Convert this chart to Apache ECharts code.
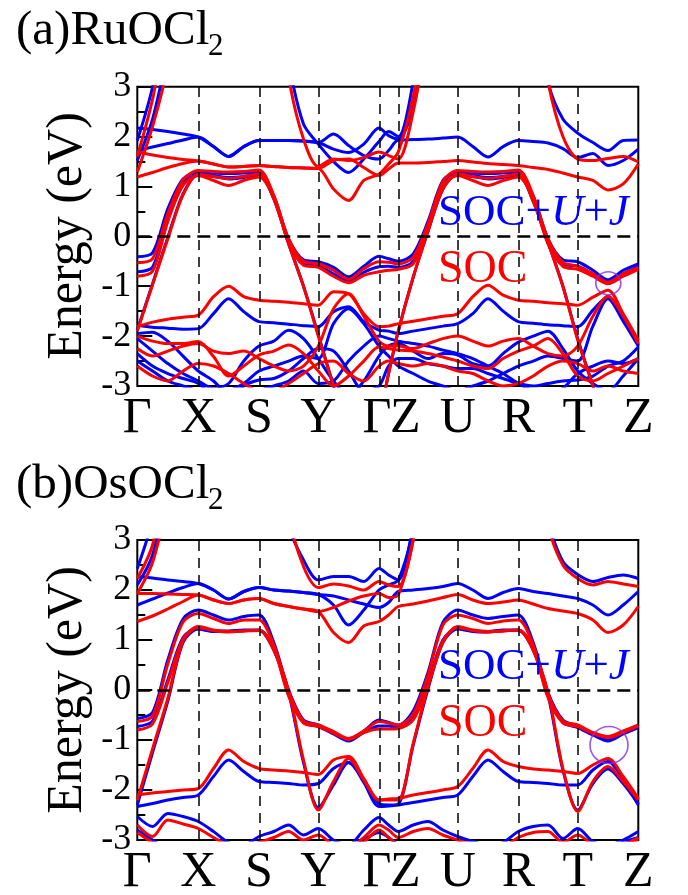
<!DOCTYPE html>
<html>
<head>
<meta charset="utf-8">
<script src="https://cdn.jsdelivr.net/npm/echarts@6/dist/echarts.min.js"></script>
<style>
  html, body { margin: 0; padding: 0; background: #fff; }
  #chart { width: 688px; height: 895px; }
</style>
</head>
<body>
<div id="chart"></div>
<script>
// k-path sampling (path length units) and high-symmetry points
const kGrid = [0, 0.1525, 0.305, 0.4575, 0.61,
  0.762, 0.913, 1.065, 1.217,
  1.365, 1.513, 1.662, 1.81,
  1.962, 2.113, 2.265, 2.417,
  2.513, 2.61,
  2.759, 2.907, 3.056, 3.204,
  3.355, 3.507, 3.658, 3.81,
  3.959, 4.107, 4.256, 4.404,
  4.556, 4.707, 4.859, 5.01];
const kTicks = [0, 0.61, 1.217, 1.81, 2.417, 2.61, 3.204, 3.81, 4.404, 5.01];
const kLabels = ['Γ', 'X', 'S', 'Y', 'Γ', 'Z', 'U', 'R', 'T', 'Z'];

// ---------- RuOCl2 : SOC+U+J bands (eV) ----------
const ruU1 = [2.17,2.14,2.10,2.05,1.99, 1.80,1.60,1.80,1.92, 1.92,1.92,1.91,1.88, 2.05,1.82,1.62,1.55, 1.72,1.93, 1.94,1.95,1.97,1.99, 1.80,1.59,1.80,1.92, 1.90,1.87,1.76,1.58, 1.66,1.42,1.52,1.75];
const ruU2 = [1.72,1.79,1.86,1.93,1.99, 1.80,1.60,1.80,1.92, 1.92,1.92,1.91,1.88, 1.75,1.68,1.85,2.17, 2.02,1.95, 2.6,4.2];
const ruU3 = [null,null,null,null,null, null,null,null,null, 5.5,3.5,2.25,1.85, 1.5,1.28,1.55,1.9, 2.1,2.0, 3.1,5.0];
const ruU4 = [1.52,2.35,3.7,5.2];
const ruU5 = [1.92,3.0,4.8];
const ruU6 = [null,null,null,null,null, null,null,null,null, null,null,null,null, null,null,null,null, null,null, null,null,null,null, null,null,null,null, 5.0,3.1,2.35,2.07, 1.88,1.72,1.92,1.93];
const ruU7 = [-0.41,-0.33,0.55,1.15,1.28, 1.27,1.26,1.27,1.28, 0.8,-0.05,-0.47,-0.51, -0.62,-0.81,-0.6,-0.40, -0.45,-0.5, -0.35,0.3,1.12,1.28, 1.27,1.26,1.27,1.28, 0.8,-0.05,-0.47,-0.51, -0.68,-0.87,-0.68,-0.55];
const ruU8 = [-0.71,-0.62,0.4,1.08,1.22, 1.20,1.15,1.18,1.22, 0.78,-0.1,-0.55,-0.6, -0.75,-0.9,-0.72,-0.61, -0.6,-0.62, -0.5,0.22,1.05,1.22, 1.20,1.15,1.18,1.22, 0.75,-0.12,-0.55,-0.6, -0.75,-0.9,-0.75,-0.6];
const ruU9 = [-1.88,-0.95,-0.02,0.85,1.24, 1.22,1.18,1.2,1.24, 0.75,-0.15,-1.0,-1.97, -3.0,-4.0,-4.2,-3.6, -2.75,-1.9, -0.82,0.1,0.95,1.24, 1.22,1.18,1.2,1.24, 0.7,-0.12,-1.0,-2.05, -3.0,-4.0];
const ruU10 = [-1.78,-1.82,-1.84,-1.86,-1.85, -1.55,-1.25,-1.51,-1.71, -1.73,-1.76,-1.79,-1.81, -1.51,-1.41,-1.71,-1.88, -1.9,-1.95, -1.9,-1.85,-1.8,-1.75, -1.55,-1.25,-1.5,-1.71, -1.74,-1.77,-1.79,-1.81, -1.48,-1.21,-1.65,-2.18];
const ruU11 = [-2.05,-2.3,-2.55,-2.75,-2.9, -3.05,-2.95,-2.5,-2.2, -2.1,-1.88,-2.05,-2.45, -2.9,-3.2,-2.9,-2.4, -2.2,-2.15, -2.3,-2.45,-2.35,-2.38, -2.55,-2.6,-2.35,-2.12, -2.0,-1.9,-2.25,-2.7, -2.95,-3.1,-2.8,-2.45];
const ruU12 = [-2.35,-2.6,-2.75,-2.85,-2.95, -3.2,-3.3,-3.0,-2.88, -2.85,-2.7,-2.45,-2.25, -2.3,-2.7,-3.1,-3.0, -2.6,-2.45, -2.45,-2.55,-2.6,-2.65, -2.65,-2.75,-2.85,-2.95, -3.0,-2.95,-2.9,-2.88, -2.8,-2.6,-2.5,-2.22];
const ruU13 = [-1.95,-1.92,-2.1,-2.4,-2.7, -2.9,-3.2,-3.3,-3.1, -3.0,-2.9,-2.7,-2.95, -2.9,-2.5,-2.2,-2.0, -2.05,-2.1, -2.15,-2.2,-2.28,-2.35, -2.45,-2.6,-2.75,-2.95, -3.1,-3.2,-3.05,-2.75, -2.6,-2.5,-2.55,-2.45];
const ruU14 = [-2.5,-2.7,-2.9,-3.0,-3.1, -3.2,-3.1,-2.95,-2.7, -2.6,-2.5,-2.4,-2.45, -1.75,-1.45,-1.75,-2.2, -2.4,-2.6, -2.75,-2.9,-3.0,-3.1, -3.0,-2.9,-2.75,-2.6, -2.5,-2.4,-2.45,-2.5, -1.8,-1.25,-1.7,-2.2];

// ---------- RuOCl2 : SOC bands (eV) ----------
const ruS1 = [1.69,1.63,1.58,1.54,1.51, 1.45,1.39,1.40,1.42, 1.40,1.38,1.37,1.36, 1.52,1.55,1.38,1.22, 1.35,1.47, 1.47,1.48,1.50,1.52, 1.49,1.46,1.44,1.42, 1.38,1.34,1.27,1.19, 1.12,0.93,1.05,1.45];
const ruS2 = [1.19,1.28,1.38,1.46,1.51, 1.45,1.39,1.40,1.42, 1.40,1.38,1.37,1.36, 0.95,0.72,1.12,1.25, 1.45,1.69, 2.8,4.5];
const ruS3 = [null,null,null,null,null, null,null,null,null, 5.5,3.2,1.95,1.40, 1.55,1.52,1.58,1.69, 1.62,1.55, 2.5,4.2];
const ruS4 = [1.29,2.2,3.4,5.0];
const ruS5 = [1.6,2.75,4.4];
const ruS6 = [null,null,null,null,null, null,null,null,null, null,null,null,null, null,null,null,null, null,null, null,null,null,null, null,null,null,null, 5.0,3.1,2.0,1.55, 1.52,1.56,1.6,1.49];
const ruS7 = [-0.53,-0.45,0.45,1.13,1.32, 1.30,1.29,1.30,1.33, 0.82,-0.05,-0.5,-0.55, -0.68,-0.86,-0.65,-0.51, -0.52,-0.55, -0.42,0.25,1.1,1.32, 1.30,1.29,1.30,1.33, 0.82,-0.05,-0.52,-0.6, -0.75,-0.92,-0.75,-0.62];
const ruS8 = [-0.8,-0.7,0.3,1.02,1.22, 1.12,1.02,1.12,1.19, 0.78,-0.12,-0.58,-0.62, -0.8,-0.93,-0.78,-0.71, -0.68,-0.66, -0.55,0.15,1.0,1.22, 1.12,1.02,1.12,1.19, 0.75,-0.15,-0.6,-0.66, -0.8,-0.95,-0.8,-0.66];
const ruS9 = [-1.9,-0.97,-0.05,0.83,1.24, 1.2,1.16,1.2,1.25, 0.75,-0.15,-1.0,-2.0, -3.0,-4.0,-4.2,-3.6, -2.75,-1.9, -0.82,0.1,0.95,1.25, 1.2,1.16,1.2,1.25, 0.7,-0.12,-1.0,-2.08, -3.0,-4.0];
const ruS10 = [-1.81,-1.72,-1.66,-1.62,-1.58, -1.21,-1.0,-1.21,-1.28, -1.30,-1.32,-1.35,-1.38, -1.11,-1.15,-1.55,-1.81, -1.8,-1.75, -1.7,-1.65,-1.6,-1.55, -1.21,-0.98,-1.18,-1.28, -1.30,-1.33,-1.35,-1.38, -1.22,-1.08,-1.55,-2.08];
const ruS11 = [-2.25,-2.4,-2.3,-2.2,-2.15, -2.3,-2.35,-2.3,-2.45, -2.6,-2.7,-2.6,-2.2, -1.45,-1.15,-1.6,-2.1, -2.2,-2.2, -2.25,-2.15,-2.05,-2.0, -2.1,-2.2,-2.1,-2.05, -2.2,-2.35,-2.4,-2.2, -1.6,-1.2,-1.6,-2.15];
const ruS12 = [-2.0,-2.1,-2.15,-2.15,-2.11, -2.41,-2.8,-2.6,-2.38, -2.3,-2.18,-2.35,-2.7, -3.0,-2.8,-2.5,-2.22, -2.25,-2.28, -2.3,-2.35,-2.42,-2.5, -2.6,-2.65,-2.45,-2.3, -2.2,-2.05,-2.35,-2.8, -2.9,-2.75,-2.6,-2.45];
const ruS13 = [-2.6,-2.8,-2.9,-2.7,-2.55, -2.6,-2.75,-2.95,-3.1, -3.1,-2.95,-2.75,-2.55, -2.5,-2.75,-2.9,-2.6, -2.5,-2.55, -2.6,-2.55,-2.6,-2.7, -2.75,-2.9,-3.0,-2.95, -2.8,-2.6,-2.5,-2.55, -2.7,-2.6,-2.7,-2.75];

// ---------- OsOCl2 : SOC+U+J bands (eV) ----------
const osU1 = [2.27,2.24,2.2,2.17,2.13, 2.0,1.82,1.97,2.05, 2.0,1.98,1.95,1.91, 1.88,1.8,1.72,1.65, 1.75,1.97, 2.0,2.03,2.07,2.13, 2.0,1.83,1.95,2.03, 1.97,1.93,1.88,1.83, 1.7,1.5,1.7,1.97];
const osU2 = [1.7,1.82,1.94,2.05,2.13, 2.0,1.82,1.97,2.05, 2.0,1.98,1.95,1.91, 1.7,1.3,1.6,2.0, 2.1,2.2, 3.2,5.0];
const osU3 = [null,null,null,null,null, null,null,null,null, 5.5,3.3,2.6,2.2, 2.27,2.27,2.17,2.43, 2.3,2.2, 3.3,5.0];
const osU4 = [null,null,null,null,null, null,null,null,null, null,null,null,null, null,null,null,null, null,null, null,null,null,null, null,null,null,null, 5.0,3.4,2.57,2.31, 2.17,2.25,2.3,2.23];
const osU5 = [2.43,3.4,5.0];
const osU6 = [2.1,2.7,4.2];
const osU7 = [-0.57,-0.45,0.6,1.42,1.6, 1.5,1.4,1.47,1.5, 0.95,0.0,-0.6,-0.7, -0.85,-1.0,-0.82,-0.6, -0.65,-0.7, -0.42,0.35,1.35,1.6, 1.5,1.43,1.47,1.5, 0.95,-0.05,-0.6,-0.72, -0.88,-1.0,-0.85,-0.72];
const osU8 = [-0.73,-0.62,0.2,1.05,1.23, 1.18,1.18,1.2,1.2, 0.85,-0.1,-0.65,-0.73, -0.88,-1.02,-0.85,-0.72, -0.72,-0.75, -0.55,0.15,1.0,1.23, 1.18,1.17,1.2,1.2, 0.85,-0.12,-0.65,-0.75, -0.9,-1.02,-0.88,-0.75];
const osU9 = [-2.3,-1.25,-0.22,0.95,1.22, 1.17,1.17,1.19,1.19, 0.8,-0.05,-1.45,-2.35, -1.9,-1.45,-1.8,-2.27, -2.3,-2.28, -1.1,0.02,0.95,1.22, 1.17,1.16,1.19,1.19, 0.8,-0.1,-1.6,-2.4, -1.87,-1.58,-1.87,-2.28];
const osU10 = [-2.33,-2.27,-2.2,-2.15,-2.1, -1.73,-1.4,-1.63,-1.83, -1.85,-1.87,-1.9,-1.87, -1.57,-1.45,-1.85,-2.33, -2.32,-2.3, -2.25,-2.2,-2.15,-2.1, -1.73,-1.4,-1.63,-1.83, -1.85,-1.87,-1.9,-1.9, -1.6,-1.43,-1.8,-2.3];
const osU11 = [-2.53,-2.73,-2.47,-2.53,-2.63, -2.83,-3.05,-3.1,-2.93, -2.83,-2.7,-2.9,-2.77, -3.0,-3.1,-2.8,-2.55, -2.7,-2.83, -2.7,-2.63,-2.8,-2.93, -3.03,-3.1,-3.05,-2.83, -2.73,-2.7,-2.97,-2.77, -3.03,-3.1,-3.0,-2.83];
const osU12 = [-2.8,-3.0,-3.2,-3.3,-3.3, -3.3,-3.3,-3.3,-3.3, -3.3,-3.3,-3.3,-3.3, -3.3,-3.2,-3.0,-2.85, -2.95,-3.1, -3.3,-3.3,-3.3,-3.3, -3.3,-3.3,-3.3,-3.3, -3.3,-3.3,-3.3,-3.3, -3.3,-3.2,-3.05,-2.95];

// ---------- OsOCl2 : SOC bands (eV) ----------
const osS1 = [1.93,1.93,1.92,1.91,1.9, 1.8,1.73,1.8,1.83, 1.73,1.67,1.62,1.57, 1.15,0.95,1.28,1.37, 1.5,1.67, 1.72,1.78,1.85,1.91, 1.8,1.73,1.76,1.8, 1.72,1.63,1.58,1.53, 1.4,1.15,1.3,1.67];
const osS2 = [1.37,1.48,1.62,1.77,1.9, 1.8,1.73,1.8,1.83, 1.73,1.67,1.62,1.57, 1.65,1.78,1.88,1.93, 1.85,1.9, 3.0,4.8];
const osS3 = [null,null,null,null,null, null,null,null,null, 5.5,3.5,2.47,2.05, 2.12,2.08,2.0,2.17, 2.1,2.07, 3.0,5.0];
const osS4 = [null,null,null,null,null, null,null,null,null, null,null,null,null, null,null,null,null, null,null, null,null,null,null, null,null,null,null, 5.0,3.3,2.5,2.23, 2.1,2.17,2.12,2.07];
const osS5 = [2.23,2.9,4.5];
const osS6 = [1.93,2.55,3.8];
const osS7 = [-0.63,-0.52,0.52,1.36,1.53, 1.43,1.33,1.4,1.4, 0.9,-0.02,-0.62,-0.7, -0.83,-0.97,-0.82,-0.63, -0.66,-0.7, -0.48,0.3,1.3,1.5, 1.43,1.33,1.38,1.4, 0.9,-0.08,-0.62,-0.7, -0.85,-0.93,-0.82,-0.7];
const osS8 = [-0.8,-0.68,0.15,1.02,1.27, 1.2,1.17,1.18,1.19, 0.82,-0.12,-0.66,-0.73, -0.86,-0.99,-0.85,-0.78, -0.78,-0.77, -0.6,0.1,0.95,1.27, 1.2,1.17,1.18,1.2, 0.82,-0.15,-0.66,-0.73, -0.87,-0.95,-0.85,-0.72];
const osS9 = [-2.2,-1.18,-0.17,0.98,1.25, 1.19,1.16,1.18,1.2, 0.8,-0.02,-1.4,-2.4, -1.83,-1.37,-1.8,-2.2, -2.2,-2.2, -1.07,0.07,0.98,1.25, 1.19,1.16,1.18,1.2, 0.8,-0.05,-1.57,-2.43, -1.83,-1.53,-1.83,-2.2];
const osS10 = [-2.1,-2.06,-2.03,-2.0,-1.97, -1.57,-1.2,-1.43,-1.57, -1.6,-1.62,-1.65,-1.69, -1.4,-1.33,-1.77,-2.2, -2.18,-2.17, -2.1,-2.05,-2.0,-1.93, -1.57,-1.2,-1.43,-1.53, -1.58,-1.6,-1.63,-1.67, -1.5,-1.37,-1.73,-2.17];
const osS11 = [-2.7,-2.93,-2.6,-2.68,-2.77, -2.95,-3.1,-3.2,-3.05, -2.95,-2.83,-3.0,-2.9, -3.1,-3.15,-2.95,-2.7, -2.8,-2.95, -2.83,-2.77,-2.9,-3.0, -3.1,-3.2,-3.15,-2.95, -2.85,-2.83,-3.05,-2.9, -3.1,-3.2,-3.1,-2.95];
const osS12 = [-2.85,-3.05,-3.2,-3.3,-3.3, -3.3,-3.3,-3.3,-3.3, -3.3,-3.3,-3.3,-3.3, -3.3,-3.25,-3.05,-2.8, -2.95,-3.1, -3.3,-3.3,-3.3,-3.3, -3.3,-3.3,-3.3,-3.3, -3.3,-3.3,-3.3,-3.3, -3.3,-3.25,-3.1,-3.0];

// marked band-gap regions [k, E]
const ruCircle = [4.71, -0.94];
const osCircle = [4.717, -1.1];

const ruBlue = [ruU1, ruU2, ruU3, ruU4, ruU5, ruU6, ruU7, ruU8, ruU9, ruU10, ruU11, ruU12, ruU13, ruU14];
const ruRed = [ruS1, ruS2, ruS3, ruS4, ruS5, ruS6, ruS7, ruS8, ruS9, ruS10, ruS11, ruS12, ruS13];
const osBlue = [osU1, osU2, osU3, osU4, osU5, osU6, osU7, osU8, osU9, osU10, osU11, osU12];
const osRed = [osS1, osS2, osS3, osS4, osS5, osS6, osS7, osS8, osS9, osS10, osS11, osS12];

const FONT = 'Liberation Serif';
const BLUE = '#0000ff', RED = '#ff0000', PURPLE = '#8a2be2';

const panels = [
  { rect: { left: 137.3, top: 86.7, width: 501, height: 299.3 }, blue: ruBlue, red: ruRed, circle: ruCircle, circleSize: [25, 23] },
  { rect: { left: 137.3, top: 540, width: 501, height: 300 }, blue: osBlue, red: osRed, circle: osCircle, circleSize: [38, 37] }
];

function kLabel(v) {
  const i = kTicks.findIndex(t => Math.abs(t - v) < 1e-6);
  if (i < 0) return '';
  if (i === 4) return '{gl|Γ}';
  if (i === 5) return '{zr|Z}';
  return kLabels[i];
}

const grids = [], xAxes = [], yAxes = [], series = [];
panels.forEach((p, gi) => {
  grids.push(Object.assign({ show: true, borderColor: '#000', borderWidth: 2, backgroundColor: 'transparent', containLabel: false, outerBoundsMode: 'none' }, p.rect));
  xAxes.push({
    gridIndex: gi, type: 'value', min: 0, max: 5.01,
    axisLine: { show: false }, axisTick: { show: false }, splitLine: { show: false },
    axisLabel: {
      customValues: kTicks, showMinLabel: true, showMaxLabel: true, hideOverlap: false,
      formatter: kLabel, fontSize: 50, fontFamily: FONT, color: '#000', margin: 8,
      rich: {
        gl: { fontSize: 50, fontFamily: FONT, color: '#000', padding: [0, 4, 0, 0] },
        zr: { fontSize: 50, fontFamily: FONT, color: '#000', padding: [0, 0, 0, 14] }
      }
    }
  });
  yAxes.push({
    gridIndex: gi, type: 'value', min: -3, max: 3, interval: 1,
    axisLine: { show: false }, splitLine: { show: false },
    axisTick: { show: true, inside: true, length: 15, lineStyle: { color: '#000', width: 2 } },
    minorTick: { show: true, splitNumber: 2, length: 8, lineStyle: { color: '#000', width: 2 } },
    axisLabel: { fontSize: 36, fontFamily: FONT, color: '#000', margin: 6 }
  });

  // high-symmetry guides and Fermi level
  const guides = kTicks.slice(1, -1).map(k => ({ xAxis: k, lineStyle: { type: [10, 7], width: 1.5, color: '#000' } }));
  guides.push({ yAxis: 0, lineStyle: { type: [13, 7], width: 2.6, color: '#000' } });
  series.push({
    type: 'line', xAxisIndex: gi, yAxisIndex: gi, data: [[0, -10]], showSymbol: false,
    lineStyle: { opacity: 0 }, silent: true, z: 1,
    markLine: { silent: true, symbol: ['none', 'none'], label: { show: false }, animation: false, data: guides }
  });

  const addBands = (bands, color, z) => bands.forEach(b => series.push({
    type: 'line', xAxisIndex: gi, yAxisIndex: gi,
    data: b.map((e, i) => [kGrid[i], e]),
    smooth: 0.3, showSymbol: false, symbol: 'none', silent: true, z: z,
    lineStyle: { color: color, width: 3 }, itemStyle: { color: color }
  }));
  addBands(p.blue, BLUE, 2);
  addBands(p.red, RED, 3);

  series.push({
    type: 'scatter', xAxisIndex: gi, yAxisIndex: gi, data: [p.circle], symbol: 'circle',
    symbolSize: p.circleSize, silent: true, z: 5,
    itemStyle: { color: 'rgba(0,0,0,0)', borderColor: PURPLE, borderWidth: 1.6 }
  });
});

function legendTexts(yTop, ySoc) {
  return [
    { type: 'text', z: 10, style: {
      x: 438, y: yTop, verticalAlign: 'middle', align: 'left',
      text: '{n|SOC+}{i|U}{n|+}{i|J}',
      rich: {
        n: { fontSize: 45, fontFamily: FONT, fill: BLUE },
        i: { fontSize: 45, fontFamily: FONT, fontStyle: 'italic', fill: BLUE }
      }
    } },
    { type: 'text', z: 10, style: {
      x: 438, y: ySoc, verticalAlign: 'middle', align: 'left',
      text: 'SOC', fontSize: 46, fontFamily: FONT, fill: RED
    } }
  ];
}
function titleTexts(label, yMain, ySub) {
  return [
    { type: 'text', z: 10, style: { x: 16, y: yMain, verticalAlign: 'middle', text: label, fontSize: 49, fontFamily: FONT, fill: '#000' } },
    { type: 'text', z: 10, style: { x: 208, y: ySub, verticalAlign: 'middle', text: '2', fontSize: 31, fontFamily: FONT, fill: '#000' } }
  ];
}
function axisTitle(yCenter) {
  return { type: 'text', z: 10, x: 68, y: yCenter, rotation: Math.PI / 2, style: {
    x: 0, y: 0, align: 'center', verticalAlign: 'middle', text: 'Energy (eV)', fontSize: 50, fontFamily: FONT, fill: '#000'
  } };
}

const chart = echarts.init(document.getElementById('chart'), null, { renderer: 'canvas' });
chart.setOption({
  animation: false,
  backgroundColor: '#fff',
  grid: grids,
  xAxis: xAxes,
  yAxis: yAxes,
  series: series,
  graphic: [].concat(
    titleTexts('(a)RuOCl', 31, 47),
    titleTexts('(b)OsOCl', 485, 501),
    legendTexts(213, 270),
    legendTexts(667, 724),
    [axisTitle(236), axisTitle(690)]
  )
});
</script>
</body>
</html>
